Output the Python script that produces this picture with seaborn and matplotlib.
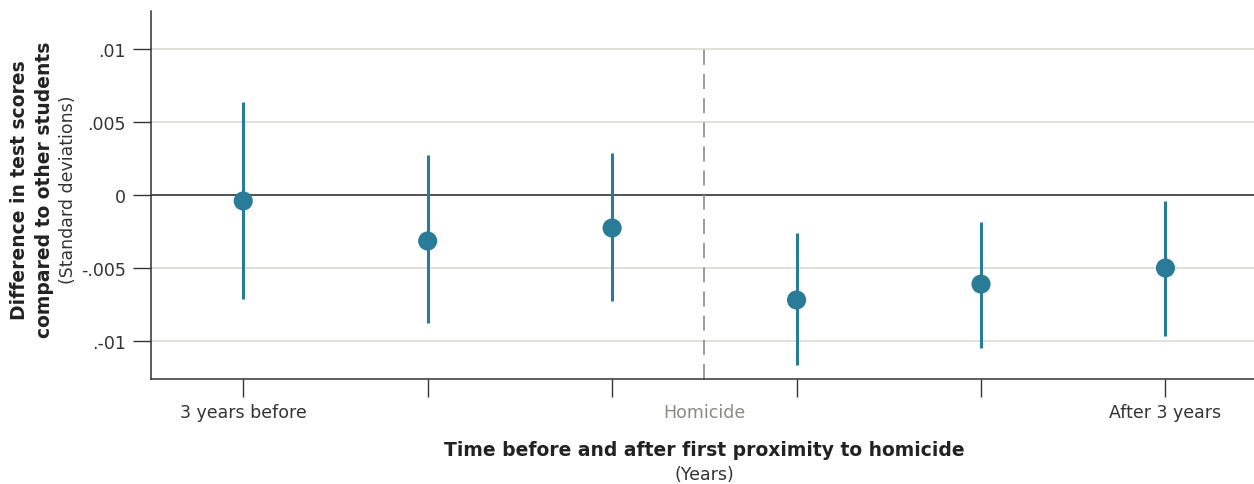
import numpy as np
import pandas as pd
import matplotlib
matplotlib.use("Agg")
import matplotlib.pyplot as plt
import seaborn as sns

# Data
positions = [0, 1, 2, 3, 4, 5]
estimates = [-0.00041, -0.00315, -0.00226, -0.00719, -0.0061, -0.0050]
ci_low = [-0.00712, -0.00877, -0.00726, -0.01164, -0.01048, -0.00966]
ci_high = [0.00637, 0.00274, 0.00288, -0.0026, -0.00185, -0.00041]
x_ticklabels = ["3 years before", "", "", "", "", "After 3 years"]
y_ticks = [0.01, 0.005, 0.0, -0.005, -0.01]
y_ticklabels = [".01", ".005", "0", "-.005", ".-01"]
event_position = 2.5
event_label = "Homicide"

sns.set_style("white")
plt.rcParams['font.family'] = ['DejaVu Sans']

teal = "#2a7b97"
dark = "#333333"
ylo, yhi = -0.0126, 0.0126

df = pd.DataFrame({"pos": positions, "est": estimates, "lo": ci_low, "hi": ci_high})

fig = plt.figure(figsize=(12.54, 4.85), dpi=100)
ax = fig.add_axes([151/1254, 105/485, 1 - 151/1254, (380-12)/485])

# gridlines
for yt in y_ticks:
    if yt == 0:
        ax.axhline(yt, color="#222222", lw=1.1, zorder=1)
    else:
        ax.axhline(yt, color="#dcdcd6", lw=1.2, zorder=0)

ax.vlines(event_position, ylo, max(y_ticks), color="#8a8a85", lw=1.2,
          linestyles=(0, (9, 5.5)), zorder=1)

ax.vlines(df["pos"], df["lo"], df["hi"], color=teal, lw=2.2, zorder=2)
sns.scatterplot(data=df, x="pos", y="est", ax=ax, color=teal, s=190,
                edgecolor="none", zorder=3, legend=False)

ax.set_xlim(-0.5, 5.48)
ax.set_ylim(ylo, yhi)
ax.set_xticks(positions)
ax.set_xticklabels(x_ticklabels, fontsize=12.5, color=dark)
ax.set_yticks(y_ticks)
ax.set_yticklabels(y_ticklabels, fontsize=12.5, color=dark)
ax.tick_params(axis="x", length=13, width=1, color=dark, pad=4, direction="out", bottom=True)
ax.tick_params(axis="y", length=13, width=1, color=dark, pad=5, direction="out", left=True)
ax.annotate(event_label, xy=(event_position, 0), xycoords=("data", "axes fraction"),
            xytext=(0, -17), textcoords="offset points",
            ha="center", va="top", fontsize=12.5, color="#8a8a85")

ax.set_xlabel("")
ax.set_ylabel("")
for s in ["top", "right"]:
    ax.spines[s].set_visible(False)
for s in ["left", "bottom"]:
    ax.spines[s].set_color(dark)
    ax.spines[s].set_linewidth(1.1)

# y-axis titles
fig.text(20/1254, 1 - 190/485, "Difference in test scores", rotation=90,
         ha="center", va="center", fontsize=13.5, fontweight="bold", color="#222222")
fig.text(45/1254, 1 - 190/485, "compared to other students", rotation=90,
         ha="center", va="center", fontsize=13.5, fontweight="bold", color="#222222")
fig.text(68/1254, 1 - 190/485, "(Standard deviations)", rotation=90,
         ha="center", va="center", fontsize=12.5, color=dark)

# x-axis titles
fig.text(704/1254, 1 - 451/485, "Time before and after first proximity to homicide",
         ha="center", va="center", fontsize=13.5, fontweight="bold", color="#222222")
fig.text(704/1254, 1 - 475/485, "(Years)", ha="center", va="center",
         fontsize=12.5, color=dark)

fig.savefig("out.png", dpi=100)
